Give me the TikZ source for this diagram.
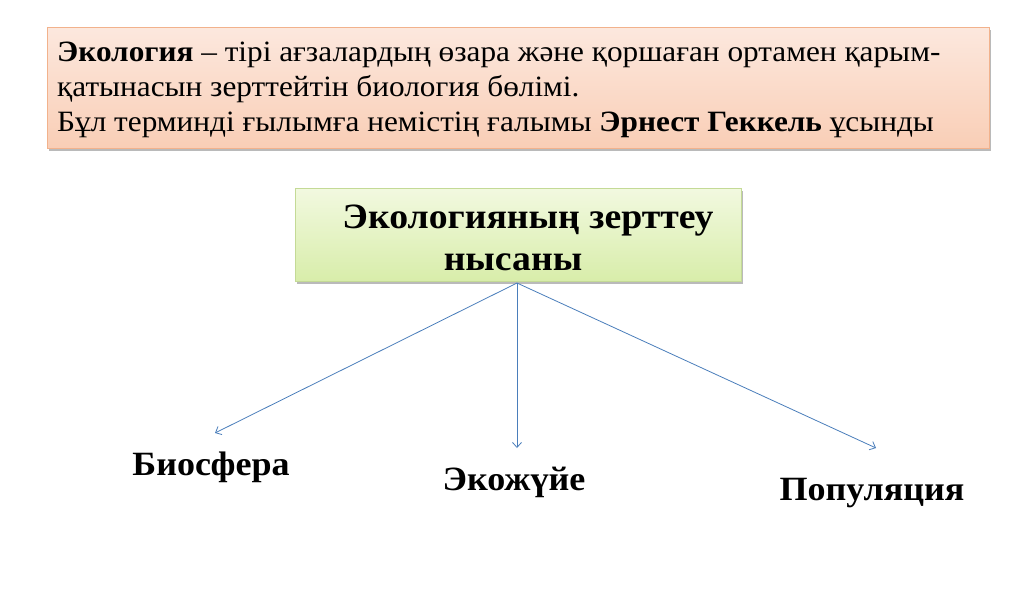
\documentclass[tikz,border=0pt]{standalone}
\usepackage{fontspec}
\setmainfont[FakeStretch=1.06]{Liberation Serif}
\usetikzlibrary{arrows.meta,shadows}
\definecolor{pinkTop}{RGB}{252,232,222}
\definecolor{pinkBot}{RGB}{249,206,182}
\definecolor{pinkLine}{RGB}{242,178,140}
\definecolor{greenTop}{RGB}{242,249,224}
\definecolor{greenBot}{RGB}{216,237,170}
\definecolor{greenLine}{RGB}{196,218,150}
\definecolor{arrowBlue}{RGB}{74,126,187}
\begin{document}
\begin{tikzpicture}[x=1pt,y=-1pt,
  boxshadow/.style={drop shadow={shadow xshift=2pt,shadow yshift=-3pt,fill=black!45,opacity=0.6}},
  defbox/.style={rectangle,inner sep=0pt,draw=pinkLine,line width=0.8pt,top color=pinkTop,bottom color=pinkBot,boxshadow},
  objbox/.style={rectangle,inner sep=0pt,draw=greenLine,line width=0.8pt,top color=greenTop,bottom color=greenBot,boxshadow},
  deftext/.style={inner sep=0pt,anchor=base west,font=\fontsize{29.5}{35}\selectfont},
  objtext/.style={inner sep=0pt,anchor=base,font=\fontsize{35.6}{42}\selectfont\bfseries},
  leaf/.style={inner sep=0pt,anchor=base,font=\fontsize{34}{40}\selectfont\bfseries},
  conn/.style={draw=arrowBlue,line width=0.8pt,-{Straight Barb[length=5pt,width=9pt,line width=0.8pt]}}
]
\useasboundingbox (0,0) rectangle (1024,606);
\fill[white] (0,0) rectangle (1024,606);

% definition box
\node[defbox,minimum width=942pt,minimum height=121pt] (def) at (518,87.5) {};
\node[deftext] (l1) at (57,61) {\textbf{Экология} – тірі ағзалардың өзара және қоршаған ортамен қарым-};
\node[deftext] (l2) at (57,96) {қатынасын зерттейтін биология бөлімі.};
\node[deftext] (l3) at (57,131) {Бұл терминді ғылымға немістің ғалымы \textbf{Эрнест Геккель} ұсынды};

% object box
\node[objbox,minimum width=446pt,minimum height=93pt] (obj) at (518,234.5) {};
\node[objtext] (o1) at (528,228) {Экологияның зерттеу};
\node[objtext] (o2) at (513,270) {нысаны};

% leaves
\node[leaf] (bio) at (211,475) {Биосфера};
\node[leaf] (eco) at (514,490) {Экожүйе};
\node[leaf] (pop) at (872,500) {Популяция};

\coordinate (src) at (517,283);
\coordinate (e1) at (215,433);
\coordinate (e2) at (517,448);
\coordinate (e3) at (876,448);
\draw[conn] (src) -- (e1);
\draw[conn] (src) -- (e2);
\draw[conn] (src) -- (e3);
\end{tikzpicture}
\end{document}
